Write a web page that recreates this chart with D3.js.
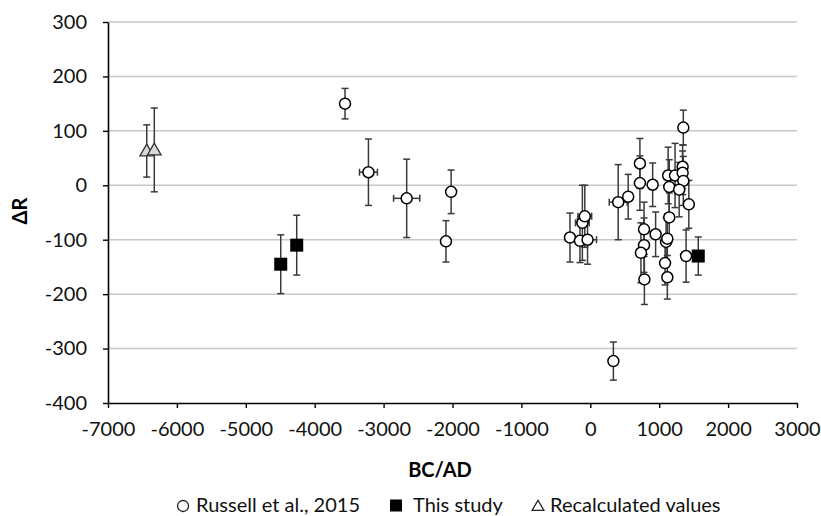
<!DOCTYPE html>
<html>
<head>
<meta charset="utf-8">
<script src="https://cdn.jsdelivr.net/npm/d3@7"></script>
<style>
  body { margin: 0; background: #fff; }
  svg { display: block; font-family: Lato, sans-serif; }
</style>
</head>
<body>
<svg width="821" height="516"></svg>
<script>
// Russell et al., 2015
const russellX = [-3560, -3220, -2665, -2020, -2095, 335, -295, -150, -40, -115, -80,
  405, 550, 720, 720, 905, 780, 780, 735, 785, 948, 1100, 1118, 1085, 1118, 1146,
  1130, 1146, 1230, 1350, 1340, 1340, 1350, 1290, 1430, 1390];
const russellY = [150, 24, -24, -12, -103, -323, -96, -102, -100, -69, -57,
  -31, -21, 40, 4, 1, -81, -110, -124, -173, -90, -104, -98, -143, -169, -59,
  18, -3, 18, 106, 34, 23, 8, -8, -35, -130];
const russellYErr = [28, 61, 72, 40, 38, 35, 45, 40, 45, 69, 57,
  69, 41, 46, 50, 40, 50, 50, 55, 46, 41, 45, 45, 40, 40, 45,
  52, 50, 59, 32, 40, 40, 45, 50, 44, 48];
const russellXErr = [0, 130, 190, 50, 0, 0, 0, 0, 130, 100, 100,
  130, 0, 0, 0, 0, 0, 0, 0, 0, 0, 0, 0, 0, 0, 0,
  0, 0, 60, 0, 0, 0, 0, 0, 0, 0];

// This study
const studyX = [-4493, -4261, 1567];
const studyY = [-145, -110, -130];
const studyYErr = [54, 55, 35];

// Recalculated values
const recalcX = [-6438, -6328];
const recalcY = [63, 65];
const recalcYErr = [48, 77];

const xTicks = d3.range(-7000, 3001, 1000);
const yTicks = d3.range(-400, 301, 100);
const legendLabels = ["Russell et al., 2015", "This study", "Recalculated values"];

const svg = d3.select("svg");
const plot = { left: 108, right: 797, top: 22, bottom: 403 };

const x = d3.scaleLinear().domain([-7000, 3000]).range([plot.left, plot.right]);
const y = d3.scaleLinear().domain([-400, 300]).range([plot.bottom, plot.top]);

const ERR_COLOR = "#3a3a3a";
const fmt = d => String(d); // plain hyphen minus, no thousands separator

// grid
svg.append("g")
  .selectAll("line")
  .data(yTicks.filter(d => d > -400))
  .join("line")
  .attr("x1", plot.left).attr("x2", plot.right)
  .attr("y1", d => y(d)).attr("y2", d => y(d))
  .attr("stroke", "#c8c8c8")
  .attr("stroke-width", 1.5);

// axes
const yAxis = svg.append("g")
  .attr("transform", `translate(${plot.left},0)`)
  .call(d3.axisLeft(y).tickValues(yTicks).tickFormat(fmt).tickSize(5).tickSizeOuter(0).tickPadding(16));
const xAxis = svg.append("g")
  .attr("transform", `translate(0,${plot.bottom})`)
  .call(d3.axisBottom(x).tickValues(xTicks).tickFormat(fmt).tickSize(5).tickSizeOuter(0).tickPadding(14));
[xAxis, yAxis].forEach(a => {
  a.attr("font-family", "Lato").attr("font-size", 20);
  a.select(".domain").attr("stroke", "#000").attr("stroke-width", 1.6);
  a.selectAll(".tick line").attr("stroke", "#000").attr("stroke-width", 1.4);
  a.selectAll(".tick text").attr("fill", "#111");
});

// axis titles
svg.append("text")
  .attr("transform", "translate(27,211) rotate(-90)")
  .attr("text-anchor", "middle")
  .attr("font-size", 20)
  .attr("font-weight", "bold")
  .text("ΔR");
svg.append("text")
  .attr("x", 440).attr("y", 477)
  .attr("text-anchor", "middle")
  .attr("font-size", 20)
  .attr("font-weight", "bold")
  .text("BC/AD");

// error bars
function errorBars(xs, ys, yerr, xerr) {
  const g = svg.append("g").attr("stroke", ERR_COLOR).attr("stroke-width", 1.5);
  xs.forEach((xv, i) => {
    const cx = x(xv), y0 = y(ys[i] - yerr[i]), y1 = y(ys[i] + yerr[i]);
    g.append("line").attr("x1", cx).attr("x2", cx).attr("y1", y0).attr("y2", y1);
    g.append("line").attr("x1", cx - 3.5).attr("x2", cx + 3.5).attr("y1", y0).attr("y2", y0);
    g.append("line").attr("x1", cx - 3.5).attr("x2", cx + 3.5).attr("y1", y1).attr("y2", y1);
    if (xerr && xerr[i] > 0) {
      const cy = y(ys[i]), x0 = x(xv - xerr[i]), x1 = x(xv + xerr[i]);
      g.append("line").attr("x1", x0).attr("x2", x1).attr("y1", cy).attr("y2", cy);
      g.append("line").attr("x1", x0).attr("x2", x0).attr("y1", cy - 3.5).attr("y2", cy + 3.5);
      g.append("line").attr("x1", x1).attr("x2", x1).attr("y1", cy - 3.5).attr("y2", cy + 3.5);
    }
  });
}
errorBars(russellX, russellY, russellYErr, russellXErr);
errorBars(studyX, studyY, studyYErr);
errorBars(recalcX, recalcY, recalcYErr);

// markers
svg.append("g")
  .selectAll("circle")
  .data(russellX)
  .join("circle")
  .attr("cx", d => x(d))
  .attr("cy", (d, i) => y(russellY[i]))
  .attr("r", 5.5)
  .attr("fill", "#fff")
  .attr("stroke", "#000")
  .attr("stroke-width", 1.5);

svg.append("g")
  .selectAll("rect")
  .data(studyX)
  .join("rect")
  .attr("x", d => x(d) - 6.5)
  .attr("y", (d, i) => y(studyY[i]) - 6.5)
  .attr("width", 13).attr("height", 13)
  .attr("fill", "#000");

const tri = d3.symbol().type(d3.symbolTriangle).size(80);
svg.append("g")
  .selectAll("path")
  .data(recalcX)
  .join("path")
  .attr("d", tri)
  .attr("transform", (d, i) => `translate(${x(d)},${y(recalcY[i]) + 1})`)
  .attr("fill", "#d9d9d9")
  .attr("stroke", "#333")
  .attr("stroke-width", 1.3);

// legend
const leg = svg.append("g").attr("font-size", 20).attr("fill", "#111");
const legY = 512;
// first entry ends just before the square, so anchor its label on the right
const t0 = leg.append("text").attr("x", 360).attr("y", legY)
  .attr("text-anchor", "end").text(legendLabels[0]);
const t0Start = 360 - t0.node().getComputedTextLength();
leg.append("circle").attr("cx", t0Start - 13).attr("cy", legY - 6).attr("r", 5.5)
  .attr("fill", "#fff").attr("stroke", "#222").attr("stroke-width", 1.3);
leg.append("rect").attr("x", 390).attr("y", legY - 12.5).attr("width", 12).attr("height", 12)
  .attr("fill", "#000");
leg.append("text").attr("x", 413).attr("y", legY).text(legendLabels[1]);
leg.append("path").attr("d", d3.symbol().type(d3.symbolTriangle).size(60))
  .attr("transform", `translate(538,${legY - 5})`)
  .attr("fill", "#fff").attr("stroke", "#222").attr("stroke-width", 1.3);
leg.append("text").attr("x", 550).attr("y", legY).text(legendLabels[2]);
</script>
</body>
</html>
